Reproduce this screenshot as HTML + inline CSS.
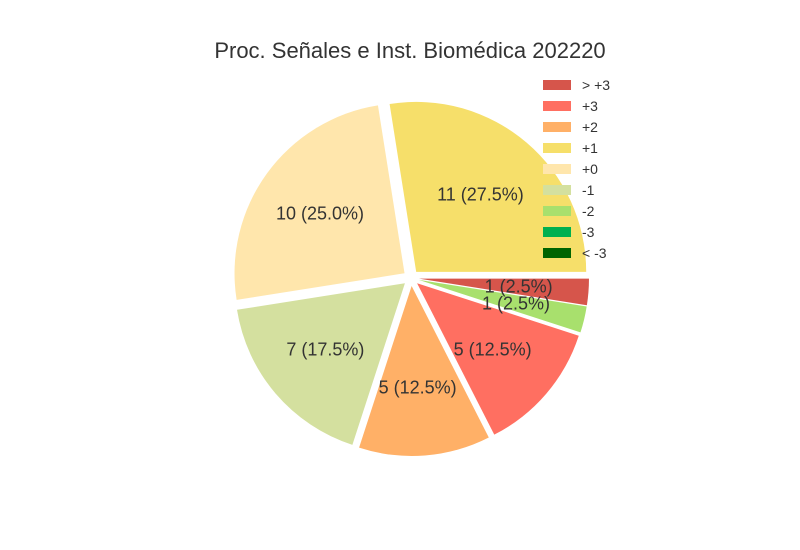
<!DOCTYPE html>
<html><head><meta charset="utf-8"><style>
body{margin:0;background:#fff;}
svg{display:block;font-family:"Liberation Sans",Arial,sans-serif;}
</style></head><body>
<svg id="chart" width="800" height="550">
<text x="410" y="58" text-anchor="middle" font-size="22" fill="#333">Proc. Señales e Inst. Biomédica 202220</text>
<g id="slices"></g>
<g id="labels"></g>
<g id="legend"></g>
</svg>
<script>
const legendLabels = ["> +3","+3","+2","+1","+0","-1","-2","-3","< -3"];
const legendColors = ["#d6554b","#ff6f61","#ffb067","#f6df6a","#ffe6ac","#d4e09f","#a8e06d","#00b050","#006400"];
// slices in drawing order (counterclockwise from 3 o'clock)
const sliceCats = ["+1","+0","-1","+2","+3","-2","> +3"];
const sliceValues = [11,10,7,5,5,1,1];

const NS="http://www.w3.org/2000/svg";
const cx=411, cy=278, R=170, pull=8;
const total=sliceValues.reduce((a,b)=>a+b,0);
const gS=document.getElementById('slices'), gL=document.getElementById('labels'), gLeg=document.getElementById('legend');
function pt(a,r,ox,oy){return [ox+r*Math.cos(a), oy-r*Math.sin(a)];}
let start=0;
sliceValues.forEach((v,i)=>{
  const sweep=v/total*2*Math.PI, end=start+sweep, mid=start+sweep/2;
  const ox=cx+pull*Math.cos(mid), oy=cy-pull*Math.sin(mid);
  const p1=pt(start,R,ox,oy), p2=pt(end,R,ox,oy);
  const large=sweep>Math.PI?1:0;
  const path=document.createElementNS(NS,'path');
  path.setAttribute('d',`M${ox},${oy} L${p1[0]},${p1[1]} A${R},${R} 0 ${large} 0 ${p2[0]},${p2[1]} Z`);
  path.setAttribute('fill',legendColors[legendLabels.indexOf(sliceCats[i])]);
  
  
  gS.appendChild(path);
  const lr = 0.6*R;
  const lp=pt(mid,lr,ox,oy);
  const t=document.createElementNS(NS,'text');
  t.setAttribute('x',lp[0]-2); t.setAttribute('y',lp[1]+6);
  t.setAttribute('text-anchor','middle'); t.setAttribute('font-size','18'); t.setAttribute('fill','#333');
  t.textContent=`${v} (${(v/total*100).toFixed(1)}%)`;
  
  
  gL.appendChild(t);
  start=end;
});
legendLabels.forEach((l,i)=>{
  const y=85+i*21;
  const r=document.createElementNS(NS,'rect');
  r.setAttribute('x',543); r.setAttribute('y',y-5); r.setAttribute('width',28); r.setAttribute('height',10);
  r.setAttribute('fill',legendColors[i]);
  
  
  gLeg.appendChild(r);
  const t=document.createElementNS(NS,'text');
  t.setAttribute('x',582); t.setAttribute('y',y+5); t.setAttribute('font-size','14'); t.setAttribute('fill','#333');
  t.textContent=l;
  
  
  gLeg.appendChild(t);
});
</script>
</body></html>
